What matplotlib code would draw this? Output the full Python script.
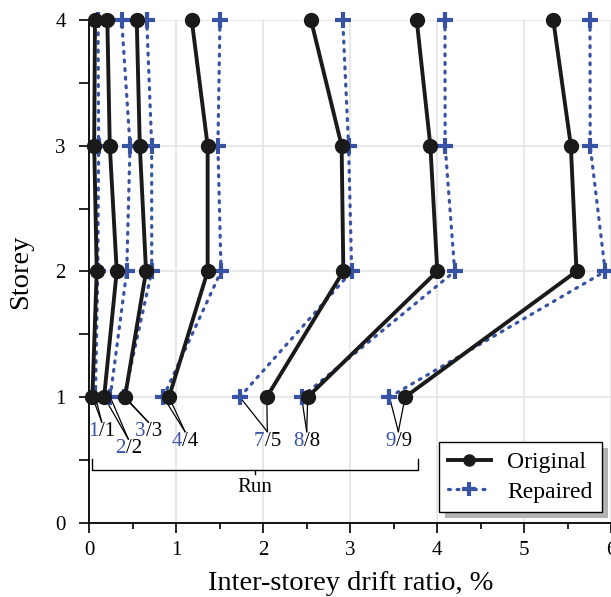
import matplotlib
matplotlib.use('Agg')
import matplotlib.pyplot as plt
from matplotlib.ticker import MultipleLocator
from matplotlib.lines import Line2D
from matplotlib.patches import Rectangle

plt.rcParams['font.family'] = ['Liberation Serif', 'DejaVu Serif']

storeys = [1, 2, 3, 4]

# inter-storey drift ratio (%) at storeys 1..4, one row per run
orig_runs = ['1', '2', '3', '4', '5', '8', '9']
orig_drift = [
    [0.035, 0.085, 0.056, 0.065],
    [0.17, 0.315, 0.235, 0.207],
    [0.41, 0.652, 0.58, 0.545],
    [0.916, 1.36, 1.36, 1.177],
    [2.04, 2.92, 2.90, 2.548],
    [2.51, 4.0, 3.92, 3.763],
    [3.63, 5.6, 5.535, 5.333],
]
rep_runs = ['1', '2', '3', '4', '7', '8', '9']
rep_drift = [
    [0.07, 0.097, 0.107, 0.10],
    [0.24, 0.43, 0.468, 0.372],
    [0.40, 0.717, 0.717, 0.66],
    [0.85, 1.514, 1.478, 1.502],
    [1.73, 3.016, 2.98, 2.913],
    [2.44, 4.2, 4.09, 4.088],
    [3.45, 5.93, 5.757, 5.755],
]

# where the run labels sit (data coords, top of the slash)
label_pos = [(0.143, 0.80), (0.448, 0.665), (0.678, 0.80), (1.10, 0.724),
             (2.046, 0.724), (2.499, 0.724), (3.552, 0.724)]

blue = '#3953a4'
black = '#1a1a1a'

fig = plt.figure(figsize=(6.11, 5.97), dpi=100)
ax = fig.add_axes([0.1462, 0.1245, 0.8543, 0.842])

for d in rep_drift:
    ax.plot(d, storeys, color=blue, lw=2.3, linestyle=(0, (0.6, 2.1)),
            dash_capstyle='round', zorder=3, clip_on=False)
    ax.plot(d, storeys, linestyle='none', marker='+', ms=11, mew=3,
            color=blue, zorder=3.1, clip_on=False)
for d in orig_drift:
    ax.plot(d, storeys, color=black, lw=2.8, marker='o', ms=10,
            zorder=4, clip_on=False)

# run labels with leader lines
for i, (r_rep, r_orig) in enumerate(zip(rep_runs, orig_runs)):
    lx, ly = label_pos[i]
    for x0 in (orig_drift[i][0], rep_drift[i][0]):
        ax.plot([x0, lx], [1, ly], color='black', lw=0.9, zorder=2)
    ax.annotate(r_rep, (lx, ly), xytext=(-2, 0), textcoords='offset points',
                ha='right', va='top', color=blue, fontsize=15)
    ax.annotate('/' + r_orig, (lx, ly), xytext=(-2, 0), textcoords='offset points',
                ha='left', va='top', color='black', fontsize=15)

# "Run" bracket
bx0, bx1, by = 0.028, 3.78, 0.419
ax.plot([bx0, bx0, bx1, bx1], [0.504, by, by, 0.504], color='black', lw=1.0, zorder=2)
bxm = (bx0 + bx1) / 2
ax.plot([bxm, bxm], [by, by - 0.035], color='black', lw=1.0, zorder=2)
ax.text(bxm, by - 0.06, 'Run', ha='center', va='top', fontsize=15)

ax.set_xlim(0, 6)
ax.set_ylim(0, 4)
ax.xaxis.set_major_locator(MultipleLocator(1))
ax.xaxis.set_minor_locator(MultipleLocator(0.5))
ax.yaxis.set_major_locator(MultipleLocator(1))
ax.yaxis.set_minor_locator(MultipleLocator(0.5))
ax.grid(True, which='major', color='#e4e4e4', lw=1.2, zorder=0)
ax.set_axisbelow(True)
for s in ['top', 'right']:
    ax.spines[s].set_visible(False)
for s in ['left', 'bottom']:
    ax.spines[s].set_linewidth(1.3)
ax.tick_params(axis='both', which='major', labelsize=15, length=7, width=1.2)
ax.tick_params(axis='x', which='major', pad=6)
ax.tick_params(axis='y', which='major', pad=10)
ax.tick_params(axis='x', which='minor', length=4, width=1.2)
ax.tick_params(axis='y', which='minor', length=7, width=1.2)
ax.set_xlabel('Inter-storey drift ratio, %', fontsize=20.5, labelpad=8)
ax.set_ylabel('Storey', fontsize=20.5, labelpad=16)

handles = [
    Line2D([], [], color=black, lw=2.8, marker='o', ms=8),
    Line2D([], [], color=blue, lw=2.3, linestyle=(0, (0.6, 2.1)),
           dash_capstyle='round', marker='+', ms=10, mew=3),
]
leg = ax.legend(handles, ['Original', 'Repaired'], loc='lower right',
                bbox_to_anchor=(0.982, 0.021), borderaxespad=0, fontsize=17,
                fancybox=False, framealpha=1, edgecolor='black',
                handlelength=1.8, borderpad=0.4, labelspacing=0.35,
                handletextpad=0.7)
leg.get_frame().set_linewidth(1.0)
leg.set_zorder(6)

fig.canvas.draw()
bb = leg.get_window_extent()
inv = ax.transAxes.inverted()
(x0, y0), (x1, y1) = inv.transform([(bb.x0 + 6, bb.y0 - 6), (bb.x1 + 6, bb.y1 - 6)])
ax.add_patch(Rectangle((x0, y0), x1 - x0, y1 - y0, transform=ax.transAxes,
                       facecolor='#b3b3b3', edgecolor='none', zorder=5.5, clip_on=False))

fig.savefig('out.png', dpi=100)
